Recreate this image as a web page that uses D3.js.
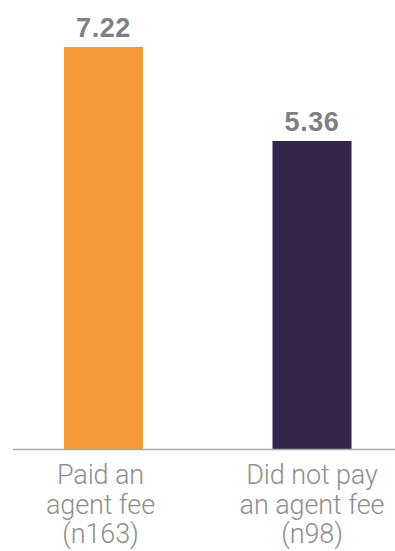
<!DOCTYPE html>
<html>
<head>
<meta charset="utf-8">
<script src="https://cdn.jsdelivr.net/npm/d3@7"></script>
<style>
  html, body { margin: 0; padding: 0; background: #fff; }
  svg { display: block; }
</style>
</head>
<body>
<svg id="chart" width="395" height="551"></svg>
<script>
// Average values by whether an agent fee was paid
const categories = ["paid", "notPaid"];
const values = [7.22, 5.36];
const valueLabels = ["7.22", "5.36"];
const categoryLabels = [
  ["Paid an", "agent fee", "(n163)"],
  ["Did not pay", "an agent fee", "(n98)"]
];
const colors = ["#F59A38", "#35264C"];

const svg = d3.select("#chart");
const baseY = 449;

const x = d3.scaleBand()
  .domain(categories)
  .range([-65.5, 481])
  .padding(0.621);

const y = d3.scaleLinear()
  .domain([-0.734, 7.22])
  .range([baseY, 47]);

// Bars
svg.selectAll("rect.bar")
  .data(values)
  .join("rect")
  .attr("class", "bar")
  .attr("x", (d, i) => x(categories[i]))
  .attr("width", x.bandwidth())
  .attr("y", d => y(d))
  .attr("height", d => baseY - y(d))
  .attr("fill", (d, i) => colors[i]);

// Value labels above bars
svg.selectAll("text.value")
  .data(values)
  .join("text")
  .attr("class", "value")
  .attr("x", (d, i) => x(categories[i]) + x.bandwidth() / 2)
  .attr("y", d => y(d) - 10)
  .attr("text-anchor", "middle")
  .attr("font-family", "'Liberation Sans', Arial, sans-serif")
  .attr("font-weight", "bold")
  .attr("font-size", 27)
  .attr("letter-spacing", 0.6)
  .attr("fill", "#7e7f83")
  .text((d, i) => valueLabels[i]);

// Baseline
svg.append("line")
  .attr("x1", 13)
  .attr("x2", 395)
  .attr("y1", baseY + 0.5)
  .attr("y2", baseY + 0.5)
  .attr("stroke", "#a7a7ac")
  .attr("stroke-width", 1.5);

// Category labels
const catG = svg.selectAll("text.cat")
  .data(categoryLabels)
  .join("text")
  .attr("class", "cat")
  .attr("text-anchor", "middle")
  .attr("font-family", "Roboto, sans-serif")
  .attr("font-weight", 300)
  .attr("font-size", 27)
  .attr("letter-spacing", -0.1)
  .attr("fill", "#8e8e90");

catG.each(function(lines, i) {
  const cx = x(categories[i]) + x.bandwidth() / 2 - (i === 0 ? 3 : 0);
  d3.select(this).selectAll("tspan")
    .data(lines)
    .join("tspan")
    .attr("x", cx)
    .attr("y", (d, j) => 484 + j * 29.5)
    .text(d => d);
});
</script>
</body>
</html>
